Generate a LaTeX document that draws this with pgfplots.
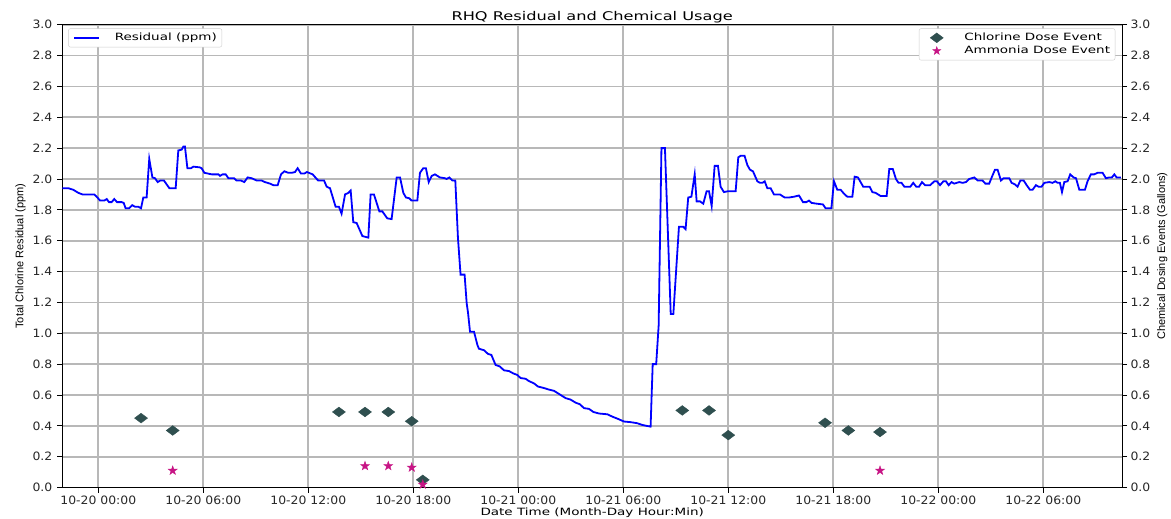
\documentclass[border=0pt]{standalone}
\usepackage{fontspec}
\setmainfont[FakeStretch=1.08]{DejaVu Sans}
\newfontfamily\widefont[FakeStretch=1.35]{DejaVu Sans}
\newfontfamily\narrowfont{Liberation Sans}
\usepackage{pgfplots}
\pgfplotsset{compat=1.18}
\usetikzlibrary{plotmarks}
\definecolor{gridgray}{HTML}{B8B8B8}
\definecolor{chlor}{HTML}{2F4F4F}
\definecolor{ammo}{HTML}{C71585}
\definecolor{legframe}{HTML}{CCCCCC}
\pgfdeclareplotmark{fstar}{%
  \pgfpathmoveto{\pgfpointpolar{90}{\pgfplotmarksize}}%
  \pgfpathlineto{\pgfpointpolar{126}{0.4\pgfplotmarksize}}%
  \pgfpathlineto{\pgfpointpolar{162}{\pgfplotmarksize}}%
  \pgfpathlineto{\pgfpointpolar{198}{0.4\pgfplotmarksize}}%
  \pgfpathlineto{\pgfpointpolar{234}{\pgfplotmarksize}}%
  \pgfpathlineto{\pgfpointpolar{270}{0.4\pgfplotmarksize}}%
  \pgfpathlineto{\pgfpointpolar{306}{\pgfplotmarksize}}%
  \pgfpathlineto{\pgfpointpolar{342}{0.4\pgfplotmarksize}}%
  \pgfpathlineto{\pgfpointpolar{18}{\pgfplotmarksize}}%
  \pgfpathlineto{\pgfpointpolar{54}{0.4\pgfplotmarksize}}%
  \pgfpathclose\pgfusepathqfillstroke}

\pgfplotstableread{
h v
-2.06 1.94
-1.71 1.94
-1.43 1.93
-1.14 1.91
-0.91 1.90
-0.48 1.90
-0.23 1.90
-0.10 1.886
0.10 1.86
0.34 1.86
0.48 1.87
0.61 1.85
0.76 1.85
0.91 1.87
1.07 1.85
1.33 1.85
1.45 1.845
1.56 1.81
1.75 1.81
1.94 1.83
2.10 1.82
2.29 1.82
2.44 1.81
2.57 1.88
2.76 1.88
2.91 2.13
3.09 2.01
3.24 2.005
3.39 1.98
3.54 1.99
3.75 1.99
4.06 1.94
4.42 1.94
4.57 2.185
4.76 2.19
4.86 2.21
4.95 2.21
5.09 2.07
5.30 2.07
5.43 2.08
5.81 2.075
5.90 2.07
6.06 2.04
6.48 2.03
6.86 2.03
6.95 2.02
7.10 2.03
7.28 2.03
7.43 2.005
7.75 2.005
7.90 1.99
8.15 1.99
8.34 1.98
8.53 2.01
8.76 2.005
9.05 1.99
9.33 1.99
9.52 1.98
9.81 1.97
10.00 1.96
10.25 1.96
10.44 2.03
10.63 2.05
10.86 2.04
11.05 2.04
11.24 2.045
11.39 2.07
11.58 2.035
11.77 2.035
11.92 2.045
12.25 2.03
12.48 2.00
12.57 1.99
12.90 1.99
13.05 1.95
13.24 1.94
13.56 1.82
13.75 1.82
13.90 1.775
14.10 1.90
14.29 1.91
14.42 1.925
14.57 1.72
14.76 1.715
15.09 1.63
15.43 1.62
15.56 1.90
15.75 1.90
16.06 1.79
16.23 1.79
16.51 1.745
16.76 1.74
17.05 2.01
17.24 2.01
17.43 1.91
17.58 1.88
17.77 1.875
17.90 1.86
18.23 1.86
18.38 2.04
18.57 2.07
18.72 2.07
18.88 1.98
19.05 2.02
19.24 2.03
19.52 2.01
19.81 2.005
19.90 2.00
20.06 2.01
20.23 1.99
20.40 1.99
20.55 1.62
20.70 1.38
20.93 1.38
21.05 1.195
21.13 1.13
21.24 1.01
21.47 1.01
21.66 0.925
21.75 0.90
22.04 0.89
22.27 0.866
22.46 0.86
22.70 0.795
22.94 0.785
23.18 0.76
23.47 0.755
23.71 0.74
23.94 0.73
24.13 0.71
24.42 0.705
24.61 0.69
24.90 0.675
25.12 0.655
25.47 0.645
25.75 0.635
26.04 0.627
26.42 0.60
26.70 0.58
26.99 0.57
27.28 0.55
27.52 0.54
27.75 0.515
28.04 0.51
28.29 0.49
28.61 0.48
29.09 0.475
29.37 0.46
29.70 0.445
30.04 0.428
30.42 0.424
30.80 0.417
31.09 0.406
31.33 0.40
31.56 0.395
31.68 0.80
31.88 0.80
32.02 1.05
32.18 2.20
32.38 2.20
32.71 1.125
32.86 1.125
33.18 1.69
33.43 1.69
33.56 1.675
33.71 1.88
33.89 1.885
34.08 2.03
34.19 1.855
34.38 1.855
34.57 1.84
34.76 1.92
34.90 1.92
35.05 1.825
35.22 2.085
35.41 2.085
35.56 1.95
35.75 1.915
35.95 1.92
36.42 1.92
36.57 2.14
36.70 2.15
36.93 2.15
37.09 2.09
37.24 2.06
37.41 2.05
37.66 1.985
37.81 1.975
37.95 1.975
38.08 1.985
38.23 1.94
38.42 1.94
38.61 1.90
38.95 1.90
39.22 1.88
39.47 1.88
39.75 1.885
40.04 1.893
40.27 1.85
40.46 1.85
40.61 1.86
40.76 1.845
41.05 1.84
41.41 1.835
41.56 1.81
41.89 1.81
42.04 1.985
42.23 1.93
42.42 1.93
42.61 1.905
42.80 1.885
43.09 1.885
43.22 2.015
43.41 2.01
43.71 1.95
43.94 1.95
44.08 1.95
44.23 1.915
44.42 1.91
44.70 1.89
45.05 1.89
45.20 2.065
45.40 2.065
45.58 2.00
45.73 1.975
45.90 1.975
46.06 1.95
46.40 1.95
46.57 1.975
46.74 1.95
46.90 1.95
47.07 1.98
47.24 1.96
47.54 1.96
47.77 1.985
47.92 1.985
48.10 1.96
48.29 1.985
48.44 1.985
48.59 1.96
48.76 1.98
48.91 1.97
49.20 1.98
49.39 1.975
49.58 1.98
49.77 2.00
50.06 2.01
50.25 1.99
50.53 1.99
50.69 1.97
50.91 1.97
51.07 2.015
51.24 2.06
51.39 2.06
51.58 1.99
51.73 2.005
52.06 2.005
52.19 1.975
52.38 1.965
52.53 1.95
52.69 1.99
52.88 1.99
53.05 1.96
53.24 1.93
53.39 1.93
53.58 1.96
53.73 1.95
53.90 1.95
54.06 1.975
54.34 1.98
54.53 1.975
54.69 1.985
54.82 1.975
54.95 1.975
55.07 1.915
55.20 1.98
55.39 1.985
55.54 2.03
55.73 2.01
55.87 2.005
56.06 1.93
56.38 1.93
56.53 1.985
56.72 2.03
56.91 2.03
57.10 2.04
57.39 2.04
57.58 2.005
57.77 2.01
57.92 2.01
58.06 2.03
58.19 2.01
58.44 2.01
}\residual

\pgfplotstableread{
h v
2.44 0.45
4.25 0.37
13.75 0.49
15.24 0.49
16.57 0.49
17.91 0.43
18.54 0.05
33.37 0.50
34.90 0.50
36.00 0.34
41.53 0.42
42.86 0.37
44.67 0.36
}\chlorine

\pgfplotstableread{
h v
4.25 0.11
15.24 0.14
16.57 0.14
17.91 0.13
18.54 0.02
44.67 0.11
}\ammonia

\begin{document}
\begin{tikzpicture}
\pgfplotsset{
  common/.style={
    scale only axis, width=1060bp, height=463bp,
    xmin=-2.06, xmax=58.5, ymin=0, ymax=3,
    ytick={0,0.2,0.4,0.6,0.8,1.0,1.2,1.4,1.6,1.8,2.0,2.2,2.4,2.6,2.8,3.0},
    yticklabel style={/pgf/number format/fixed, /pgf/number format/fixed zerofill, /pgf/number format/precision=1},
    /pgf/number format/assume math mode=true,
    tick label style={font=\fontsize{11.5bp}{13bp}\selectfont, color=black!85},
    tick align=outside, major tick length=5bp,
    every tick/.style={black, line width=0.8bp},
    axis line style={black, line width=1bp},
    legend style={draw=legframe, rounded corners=2bp, fill=white,
      font=\widefont\fontsize{10bp}{12bp}\selectfont, inner xsep=5bp, inner ysep=2.7bp,
      row sep=0bp, column sep=15bp, legend cell align=left,
      nodes={inner xsep=0bp, inner ysep=2bp}},
  }
}
\begin{axis}[common, name=main,
  xtick={0,6,12,18,24,30,36,42,48,54},
  xticklabels={10-20 00:00,10-20 06:00,10-20 12:00,10-20 18:00,10-21 00:00,10-21 06:00,10-21 12:00,10-21 18:00,10-22 00:00,10-22 06:00},
  tick pos=left,
  yticklabel style={xshift=-1.5bp},
  grid=major, major grid style={gridgray, line width=1.8bp},
  xlabel={Date Time (Month-Day Hour:Min)},
  xlabel style={font=\widefont\fontsize{10bp}{12bp}\selectfont, yshift=4bp},
  ylabel={Total Chlorine Residual (ppm)},
  ylabel style={font=\narrowfont\fontsize{11bp}{13bp}\selectfont},
  title={RHQ Residual and Chemical Usage},
  title style={font=\widefont\fontsize{12bp}{14bp}\selectfont, yshift=-8bp},
  legend style={at={(0.0056,0.992)}, anchor=north west},
]
\addplot[blue, line width=1.8bp,
  legend image code/.code={\draw[blue, line width=1.4bp] (0bp,0bp) -- (25bp,0bp);}]
  table[x=h, y=v] {\residual};
\addlegendentry{Residual (ppm)}
\end{axis}
\begin{axis}[common,
  axis x line=none, axis y line*=right,
  ylabel={Chemical Dosing Events (Gallons)},
  ylabel style={font=\narrowfont\fontsize{11bp}{13bp}\selectfont},
  legend style={at={(0.9936,0.992)}, anchor=north east},
]
\addplot[only marks, mark=diamond*, mark size=6.5bp,
  mark options={rotate=90, fill=chlor, draw=chlor},
  legend image code/.code={\draw[mark=diamond*, mark size=6.5bp, mark options={rotate=90, fill=chlor, draw=chlor}] plot coordinates {(12.5bp,0bp)}; \path (0bp,0bp) (25bp,0bp);}]
  table[x=h, y=v] {\chlorine};
\addlegendentry{Chlorine Dose Event}
\addplot[only marks, mark=fstar, mark size=4.7bp,
  mark options={fill=ammo, draw=ammo, line width=0.4bp},
  legend image code/.code={\draw[mark=fstar, mark size=4.2bp, mark options={fill=ammo, draw=ammo, line width=0.4bp}] plot coordinates {(12.5bp,0bp)}; \path (0bp,0bp) (25bp,0bp);}]
  table[x=h, y=v] {\ammonia};
\addlegendentry{Ammonia Dose Event}
\end{axis}
\pgfresetboundingbox
\path ([shift={(-62.3bp,-31.3bp)}]main.south west) rectangle ([shift={(49bp,24.7bp)}]main.north east);
\end{tikzpicture}
\end{document}
